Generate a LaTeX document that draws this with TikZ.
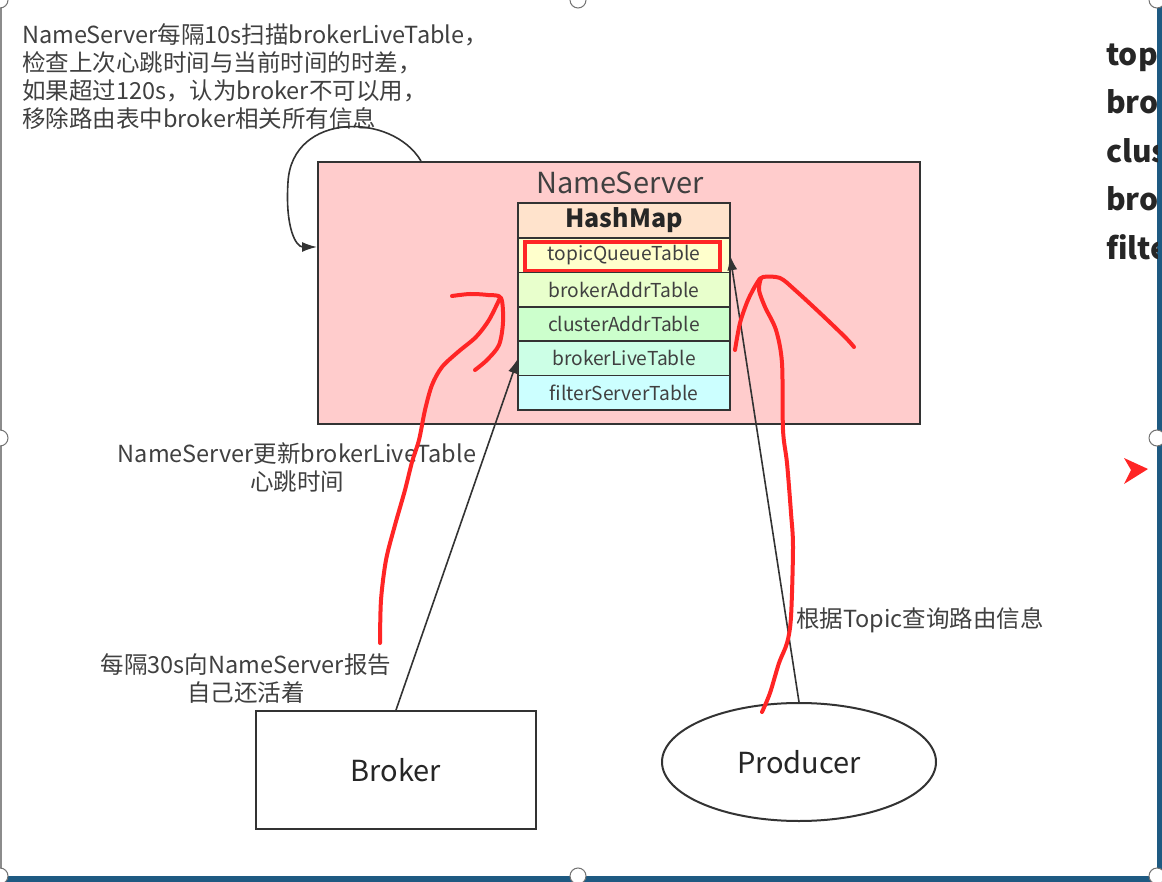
\documentclass[tikz,border=0pt]{standalone}
\usepackage{fontspec}
\setmainfont{Noto Sans CJK SC}
\usetikzlibrary{positioning, arrows.meta, shapes.geometric}
\definecolor{ink}{HTML}{404040}
\definecolor{edge}{HTML}{333333}
\definecolor{nspink}{HTML}{FFCCCC}
\definecolor{hdrpeach}{HTML}{FFE3CC}
\definecolor{rowA}{HTML}{FFFFCC}
\definecolor{rowB}{HTML}{E8FFCC}
\definecolor{rowC}{HTML}{CCFFCC}
\definecolor{rowD}{HTML}{CCFFE6}
\definecolor{rowE}{HTML}{CCFFFF}
\definecolor{penred}{HTML}{FF2525}
\definecolor{frameblue}{HTML}{1E5A82}
\tikzset{
  nsbox/.style  = {draw=edge, fill=nspink, line width=2pt, minimum width=602pt,
                   minimum height=262pt, inner sep=0pt},
  title/.style  = {font=\fontsize{29}{32}\selectfont, text=ink, inner sep=0pt},
  hdr/.style    = {draw=edge, fill=hdrpeach, line width=1.5pt, outer sep=0pt,
                   minimum width=212pt, minimum height=35pt, inner sep=0pt,
                   font=\fontsize{25}{28}\selectfont\bfseries, text=black!85},
  row/.style    = {draw=edge, line width=1.5pt, outer sep=0pt, minimum width=212pt,
                   minimum height=34.4pt, inner sep=0pt,
                   font=\fontsize{19.2}{21}\selectfont, text=ink},
  hl/.style     = {draw=penred, line width=3.3pt},
  ent/.style    = {draw=edge, line width=2pt, minimum width=280pt, minimum height=118pt,
                   font=\fontsize{29}{32}\selectfont, text=black!85},
  ar/.style     = {-{Latex[length=15pt,width=10pt]}, draw=edge, line width=1.6pt},
  pen/.style    = {draw=penred, line width=4pt, line cap=round, line join=round},
  lbl/.style    = {font=\fontsize{23.5}{28}\selectfont, text=ink, inner sep=0pt, align=center},
  side/.style   = {font=\fontsize{30}{48.5}\selectfont\bfseries, text=black!85,
                   inner sep=0pt, align=left},
  handle/.style = {draw=black!55, fill=white, line width=1pt},
}
\begin{document}
\begin{tikzpicture}[x=1pt, y=-1pt]
  \useasboundingbox (0,0) rectangle (1162,882);
  % screenshot frame
  \fill[white] (0,0) rectangle (1162,882);
  \fill[frameblue] (1157,0) rectangle (1162,882);
  \fill[frameblue] (0,876) rectangle (1162,882);
  \draw[black!45, line width=1.2pt] (1,0) -- (1,876);

  \node[nsbox] (ns) at (619,293) {};
  \node[title] (nst) at (620,183) {NameServer};
  \node[hdr] (hm) at (624,220.5) {HashMap};
  \node[row, fill=rowA, below=0pt of hm]  (tqt) {topicQueueTable};
  \node[row, fill=rowB, below=0pt of tqt] (bat) {brokerAddrTable};
  \node[row, fill=rowC, below=0pt of bat] (cat) {clusterAddrTable};
  \node[row, fill=rowD, below=0pt of cat] (blt) {brokerLiveTable};
  \node[row, fill=rowE, below=0pt of blt] (fst) {filterServerTable};
  \draw[hl] ([xshift=7pt,yshift=-4pt]tqt.north west) rectangle ([xshift=-10pt,yshift=2pt]tqt.south east);

  \node[ent] (broker) at (396,770) {Broker};
  \node[ent, ellipse, minimum width=274pt] (producer) at (799,762) {Producer};

  \node[lbl, align=left, anchor=west] (scan) at (22,77)
    {NameServer每隔10s扫描brokerLiveTable，\\检查上次心跳时间与当前时间的时差，\\如果超过120s，认为broker不可以用，\\移除路由表中broker相关所有信息};
  \node[lbl] (upd) at (297,468) {NameServer更新brokerLiveTable\\心跳时间};
  \node[lbl] (rep) at (246,679) {每隔30s向NameServer报告\\自己还活着};
  \node[lbl, anchor=west] (qry) at (796,620) {根据Topic查询路由信息};

  \draw[ar] ([xshift=104pt]ns.north west) .. controls (392,112) and (292,112) .. (288,182)
    .. controls (285,228) and (296,247) .. ([yshift=-86pt]ns.north west);
  \draw[ar] (broker.north) -- (blt.west);
  \draw[ar] (producer.north) -- (tqt.east);

  % hand-drawn marks
  \draw[pen] plot[smooth] coordinates {(380,643) (381,600) (386,560) (395,525) (405,490)
    (412,462) (419,440) (425,410) (432,385) (442,367) (458,352) (476,337) (489,320) (500,298)};
  \draw[pen] plot[smooth] coordinates {(452,296) (470,294) (488,295) (501,298) (503,322)
    (499,345) (487,360) (475,370)};
  \draw[pen] plot[smooth] coordinates {(762,712) (770,693) (779,663) (787,643) (791,617)
    (793,547) (791,513) (787,463) (783,430) (782,363) (776,330) (765,307) (759,290) (761,278)};
  \draw[pen] plot[smooth] coordinates {(735,350) (740,323) (748,300) (757,283) (763,277)
    (780,278) (795,290) (820,313) (845,337) (854,347)};
  \fill[penred] (1124,458) -- (1148,469) -- (1124,484) -- (1131,470) -- cycle;

  \begin{scope}
    \clip (1090,0) rectangle (1157,300);
    \node[side, anchor=north west] (sidelist) at (1106,40)
      {topicQueueTable\\brokerAddrTable\\clusterAddrTable\\brokerLiveTable\\filterServerTable};
  \end{scope}

  \foreach \hx/\hy in {0/0, 578/0, 1157/0, 0/438, 1157/438, 0/876, 578/876, 1157/876}
    \draw[handle] (\hx,\hy) circle[radius=8pt];
\end{tikzpicture}
\end{document}
